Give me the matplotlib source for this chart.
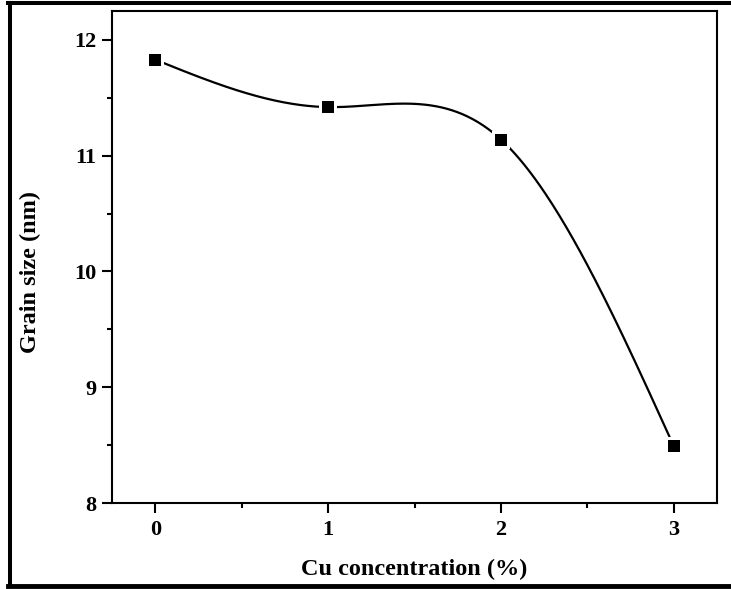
import numpy as np
import matplotlib
matplotlib.use("Agg")
import matplotlib.pyplot as plt
from matplotlib.lines import Line2D
from matplotlib.ticker import MultipleLocator

# Grain size vs Cu doping level
cu_conc = [0, 1, 2, 3]
grain_size = [11.83, 11.42, 11.14, 8.49]

x_ticks = [0, 1, 2, 3]
y_ticks = [8, 9, 10, 11, 12]

plt.rcParams.update(
    {
        "font.family": ["Liberation Serif", "DejaVu Serif"],
        "font.weight": "bold",
        "font.size": 16,
    }
)


def natural_spline(x, y, n=300):
    # natural cubic spline through the measured points, used for the smooth guide line
    x = np.asarray(x, dtype=float)
    y = np.asarray(y, dtype=float)
    k = len(x)
    h = np.diff(x)
    A = np.zeros((k, k))
    b = np.zeros(k)
    A[0, 0] = A[-1, -1] = 1.0
    for i in range(1, k - 1):
        A[i, i - 1] = h[i - 1]
        A[i, i] = 2 * (h[i - 1] + h[i])
        A[i, i + 1] = h[i]
        b[i] = 6 * ((y[i + 1] - y[i]) / h[i] - (y[i] - y[i - 1]) / h[i - 1])
    M = np.linalg.solve(A, b)
    xs = np.linspace(x[0], x[-1], n)
    idx = np.clip(np.searchsorted(x, xs) - 1, 0, k - 2)
    x0, x1 = x[idx], x[idx + 1]
    hh = x1 - x0
    a = (x1 - xs) / hh
    c = (xs - x0) / hh
    ys = (a * y[idx] + c * y[idx + 1]
          + ((a ** 3 - a) * M[idx] + (c ** 3 - c) * M[idx + 1]) * hh ** 2 / 6)
    return xs, ys


fig = plt.figure(figsize=(7.31, 5.89), dpi=100)
ax = fig.add_axes([0.1532, 0.146, 0.8277, 0.8353])

xs, ys = natural_spline(cu_conc, grain_size)
ax.plot(xs, ys, color="black", linewidth=1.6, zorder=2)
# white pads break the line just short of each symbol
ax.plot(cu_conc, grain_size, linestyle="none", marker="s", markersize=13,
        color="white", markeredgewidth=0, zorder=3)
ax.plot(cu_conc, grain_size, linestyle="none", marker="s", markersize=8,
        color="black", markeredgewidth=0, zorder=4)

ax.set_xlim(-0.25, 3.25)
ax.set_ylim(8, 12.25)
ax.set_xticks(x_ticks)
ax.set_yticks(y_ticks)
ax.xaxis.set_minor_locator(MultipleLocator(0.5))
ax.yaxis.set_minor_locator(MultipleLocator(0.5))
ax.tick_params(which="both", direction="out", width=1.5, top=False, right=False)
ax.tick_params(which="major", length=7)
ax.tick_params(which="minor", length=3.5)
ax.tick_params(axis="x", which="major", pad=5)
ax.tick_params(axis="y", which="major", pad=4)
for lab in ax.get_xticklabels() + ax.get_yticklabels():
    lab.set_fontweight("bold")

for sp in ax.spines.values():
    sp.set_linewidth(1.5)
    sp.set_color("black")

ax.set_xlabel("Cu concentration (%)", fontsize=17.5, fontweight="bold", labelpad=14)
ax.set_ylabel("Grain size (nm)", fontsize=17.5, fontweight="bold")
ax.yaxis.set_label_coords(-0.117, 0.47)

# outer frame around the figure
lw = 2.9
fig.add_artist(Line2D([0.013, 0.013], [0.0059, 0.9949], transform=fig.transFigure,
                      color="black", linewidth=lw))
fig.add_artist(Line2D([0.011, 1.0], [0.9949, 0.9949], transform=fig.transFigure,
                      color="black", linewidth=lw))
fig.add_artist(Line2D([0.011, 1.0], [0.0059, 0.0059], transform=fig.transFigure,
                      color="black", linewidth=lw + 0.6))

fig.savefig("out.png", dpi=100)
